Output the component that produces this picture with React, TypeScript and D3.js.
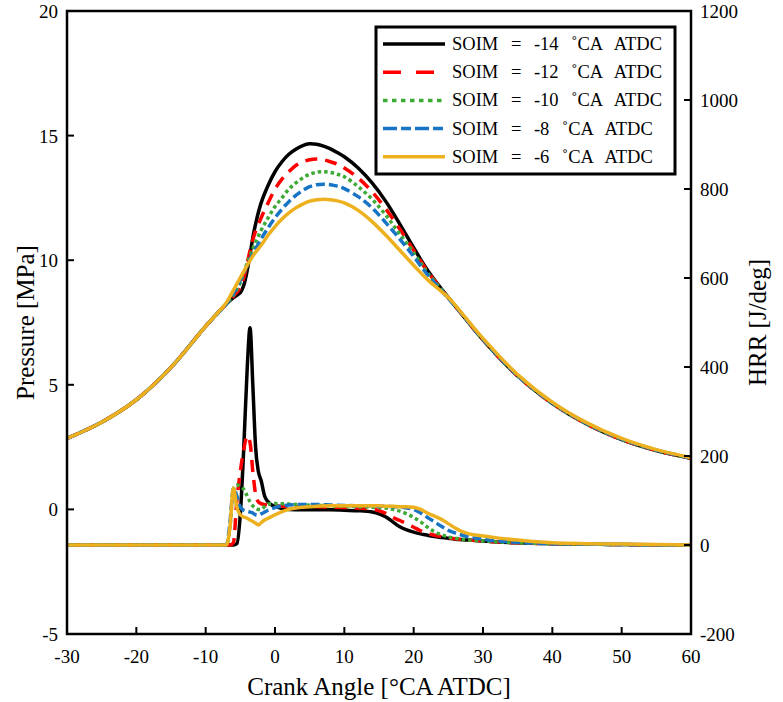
import React from "react";
import * as d3 from "d3";

const W = 783;
const H = 702;

// pressure, MPa (left axis)
const pAngle = [-30, -25, -20, -15, -10, -7, -6, -5, -4.5, -4, -3.5, -3, -2, -1, 0, 1, 2, 3, 4, 5, 6, 7, 8, 9, 10, 12, 14, 16, 18, 20, 22, 25, 27, 30, 35, 40, 45, 50, 55, 60];
const pSoim14 = [2.85, 3.5, 4.4, 5.7, 7.35, 8.25, 8.5, 8.7, 9.0, 9.6, 10.4, 11.2, 12.3, 13.0, 13.55, 13.95, 14.25, 14.45, 14.6, 14.67, 14.65, 14.58, 14.47, 14.32, 14.15, 13.7, 13.1, 12.35, 11.45, 10.5, 9.6, 8.5, 7.82, 6.8, 5.35, 4.25, 3.42, 2.8, 2.36, 2.05];
const pSoim12 = [2.85, 3.5, 4.4, 5.7, 7.35, 8.25, 8.55, 8.9, 9.3, 9.9, 10.5, 11.0, 11.7, 12.3, 12.85, 13.25, 13.55, 13.8, 13.95, 14.03, 14.06, 14.03, 13.95, 13.85, 13.7, 13.3, 12.75, 12.05, 11.25, 10.4, 9.55, 8.5, 7.82, 6.8, 5.35, 4.25, 3.42, 2.8, 2.36, 2.05];
const pSoim10 = [2.85, 3.5, 4.4, 5.7, 7.35, 8.25, 8.6, 9.1, 9.5, 9.9, 10.25, 10.6, 11.2, 11.7, 12.15, 12.5, 12.85, 13.1, 13.3, 13.45, 13.53, 13.55, 13.52, 13.45, 13.35, 12.95, 12.45, 11.8, 11.05, 10.3, 9.5, 8.5, 7.83, 6.81, 5.36, 4.26, 3.43, 2.81, 2.37, 2.06];
const pSoim8 = [2.85, 3.5, 4.4, 5.7, 7.35, 8.25, 8.65, 9.2, 9.5, 9.8, 10.1, 10.35, 10.85, 11.3, 11.7, 12.05, 12.35, 12.6, 12.8, 12.95, 13.03, 13.05, 13.03, 12.97, 12.87, 12.55, 12.1, 11.5, 10.85, 10.15, 9.42, 8.47, 7.83, 6.82, 5.37, 4.27, 3.44, 2.82, 2.38, 2.06];
const pSoim6 = [2.85, 3.5, 4.4, 5.7, 7.35, 8.3, 8.8, 9.3, 9.55, 9.8, 10.03, 10.25, 10.6, 11.0, 11.35, 11.65, 11.9, 12.1, 12.25, 12.37, 12.43, 12.45, 12.43, 12.38, 12.3, 12.0, 11.55, 11.0, 10.4, 9.8, 9.22, 8.5, 7.86, 6.86, 5.41, 4.3, 3.47, 2.85, 2.4, 2.08];

// heat release rate, J/deg (right axis)
const hAngle = [-30, -8, -7, -6.5, -6, -5.5, -5, -4.5, -4, -3.6, -3.2, -2.8, -2.4, -2, -1.5, -1, 0, 2, 4, 6, 8, 10, 12, 14, 15, 16, 17, 18, 19, 20, 21, 22, 23, 24, 25, 26, 27, 28, 30, 32, 35, 40, 45, 50, 60];
const hSoim14 = [0, 0, 0, 0, 0, 3, 70, 220, 400, 488, 360, 220, 165, 145, 110, 97, 86, 80, 79, 79, 79, 78, 77, 74, 70, 63, 52, 41, 34, 29, 25, 22, 19, 17, 15, 13, 12, 11, 9, 7, 5, 3, 2, 1, 0];
const hSoim12 = [0, 0, 0, 0, 5, 100, 165, 215, 245, 230, 165, 115, 97, 93, 91, 90, 88, 86, 86, 86, 85, 84, 83, 81, 77, 71, 62, 55, 48, 40, 32, 26, 22, 19, 16, 14, 12, 11, 9, 7, 5, 3, 2, 1, 0];
const hSoim10 = [0, 0, 0, 40, 125, 135, 132, 125, 110, 97, 88, 83, 80, 80, 86, 92, 93, 92, 90, 89, 88, 87, 86, 85, 84, 83, 80, 76, 70, 62, 52, 40, 30, 23, 18, 15, 13, 11, 9, 7, 5, 3, 2, 1, 0];
const hSoim8 = [0, 0, 0, 50, 128, 110, 85, 78, 76, 74, 72, 68, 67, 70, 74, 78, 84, 90, 91, 91, 90, 89, 88, 88, 87, 87, 86, 85, 83, 80, 72, 62, 52, 42, 33, 27, 22, 18, 13, 9, 6, 3, 2, 1, 0];
const hSoim6 = [0, 0, 0, 40, 128, 85, 68, 63, 60, 56, 53, 49, 45, 50, 56, 60, 68, 80, 85, 87, 88, 88, 88, 88, 88, 87, 87, 86, 86, 85, 80, 72, 65, 58, 48, 38, 30, 25, 20, 16, 11, 5, 3, 2, 0];

const seriesLabels = ["-14", "-12", "-10", "-8", "-6"];
const seriesColors = ["#000000", "#FF0000", "#3DAA35", "#1874C4", "#EDB120"];
const seriesDash = ["none", "12,8", "3.5,3", "9,4", "none"];
const legendDash = ["none", "18,15", "4.5,4.5", "14,4,10,4", "none"];
const pressureSeries = [pSoim14, pSoim12, pSoim10, pSoim8, pSoim6];
const hrrSeries = [hSoim14, hSoim12, hSoim10, hSoim8, hSoim6];

const xTicks = [-30, -20, -10, 0, 10, 20, 30, 40, 50, 60];
const pTicks = [-5, 0, 5, 10, 15, 20];
const hTicks = [-200, 0, 200, 400, 600, 800, 1000, 1200];

const left = 67;
const right = 691;
const top = 11;
const bottom = 634;
const font = "'Liberation Serif', 'Times New Roman', serif";

export default function App() {
  const x = d3.scaleLinear().domain([-30, 60]).range([left, right]);
  const yP = d3.scaleLinear().domain([-5, 20]).range([bottom, top]);
  const yH = d3.scaleLinear().domain([-200, 1200]).range([bottom, top]);

  const pLine = d3
    .line<number>()
    .x((_, i) => x(pAngle[i]))
    .y((d) => yP(d))
    .curve(d3.curveCatmullRom.alpha(0.5));
  const hLine = d3
    .line<number>()
    .x((_, i) => x(hAngle[i]))
    .y((d) => yH(d))
    .curve(d3.curveMonotoneX);

  const legendRows = seriesLabels.map((_, i) => 44 + i * 28.2);

  return (
    <svg
      width={W}
      height={H}
      style={{ position: "absolute", left: 0, top: 0, background: "#fff" }}
      fontFamily={font}
    >
      <defs>
        <clipPath id="plot">
          <rect x={left} y={top} width={right - left} height={bottom - top} />
        </clipPath>
      </defs>

      <g clipPath="url(#plot)" fill="none" strokeLinejoin="round">
        {pressureSeries.map((s, i) => (
          <path
            key={"p" + i}
            d={pLine(s) || ""}
            stroke={seriesColors[i]}
            strokeWidth={3.5}
            strokeDasharray={seriesDash[i]}
          />
        ))}
        {hrrSeries.map((s, i) => (
          <path
            key={"h" + i}
            d={hLine(s) || ""}
            stroke={seriesColors[i]}
            strokeWidth={3.5}
            strokeDasharray={seriesDash[i]}
          />
        ))}
      </g>

      {/* frame */}
      <rect
        x={left}
        y={top}
        width={right - left}
        height={bottom - top}
        fill="none"
        stroke="#000"
        strokeWidth={2.5}
      />

      {/* x ticks */}
      {xTicks.map((t) => (
        <g key={"x" + t}>
          <line x1={x(t)} x2={x(t)} y1={bottom} y2={bottom - 7} stroke="#000" strokeWidth={2} />
          <text x={x(t)} y={663} textAnchor="middle" fontSize={19}>
            {t}
          </text>
        </g>
      ))}

      {/* left ticks */}
      {pTicks.map((t) => (
        <g key={"p" + t}>
          <line x1={left} x2={left + 7} y1={yP(t)} y2={yP(t)} stroke="#000" strokeWidth={2} />
          <text x={58} y={yP(t) + 7} textAnchor="end" fontSize={19}>
            {t}
          </text>
        </g>
      ))}

      {/* right ticks */}
      {hTicks.map((t) => (
        <g key={"h" + t}>
          <line x1={right} x2={right - 7} y1={yH(t)} y2={yH(t)} stroke="#000" strokeWidth={2} />
          <text x={700} y={yH(t) + 7} textAnchor="start" fontSize={19}>
            {t}
          </text>
        </g>
      ))}

      {/* axis titles */}
      <text x={379} y={695} textAnchor="middle" fontSize={25}>
        Crank Angle [°CA ATDC]
      </text>
      <text
        transform={`translate(34, ${(top + bottom) / 2}) rotate(-90)`}
        textAnchor="middle"
        fontSize={25}
      >
        Pressure [MPa]
      </text>
      <text
        transform={`translate(766, ${(top + bottom) / 2}) rotate(-90)`}
        textAnchor="middle"
        fontSize={25}
      >
        HRR [J/deg]
      </text>

      {/* legend */}
      <rect x={376} y={27} width={299} height={147} fill="#fff" stroke="#000" strokeWidth={3} />
      {seriesLabels.map((lab, i) => (
        <g key={"l" + i}>
          <line
            x1={383}
            x2={445}
            y1={legendRows[i]}
            y2={legendRows[i]}
            stroke={seriesColors[i]}
            strokeWidth={3.5}
            strokeDasharray={legendDash[i]}
          />
          <text x={452} y={legendRows[i] + 6} fontSize={18.5} style={{ wordSpacing: "8px" }}>
            {`SOIM = ${lab} ˚CA ATDC`}
          </text>
        </g>
      ))}
    </svg>
  );
}
